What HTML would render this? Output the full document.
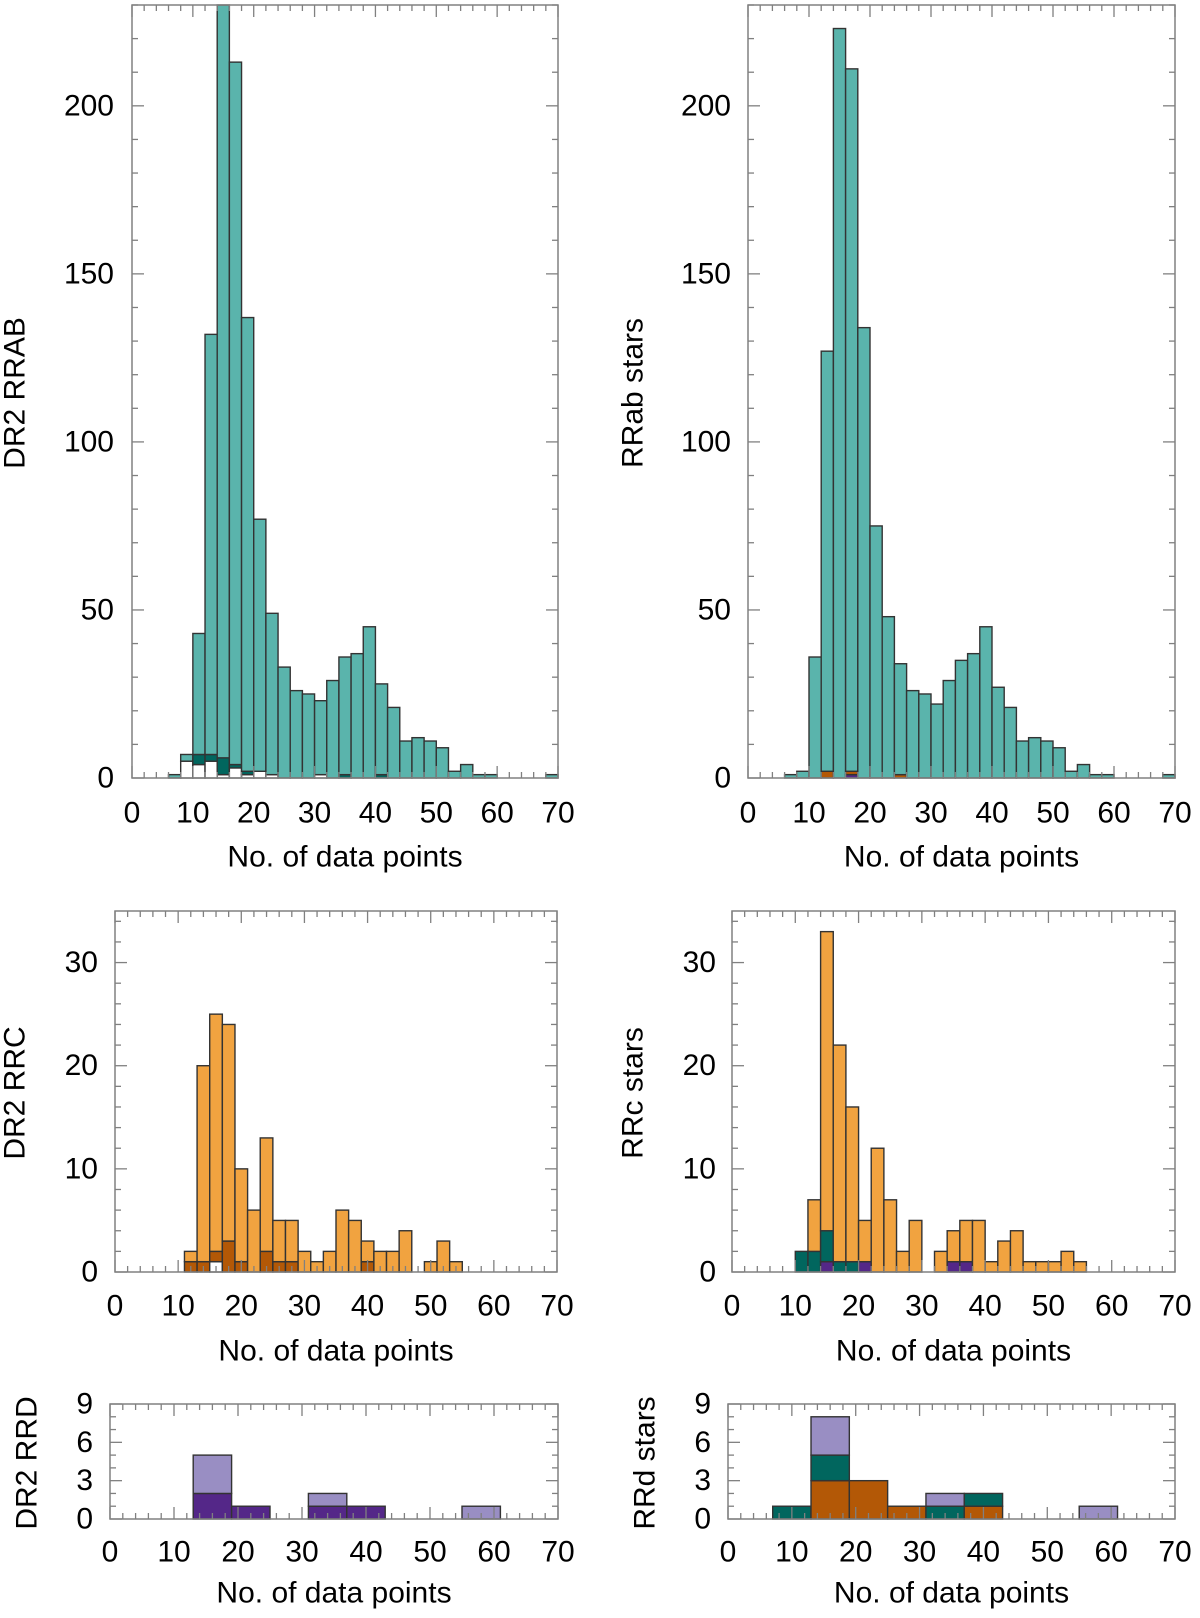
<!DOCTYPE html>
<html><head><meta charset="utf-8"><style>
body{margin:0;background:#fff}
svg{display:block}
text{font-family:"Liberation Sans",sans-serif;fill:#000}
</style></head><body>
<svg id="fig" width="1200" height="1618" viewBox="0 0 1200 1618" xmlns="http://www.w3.org/2000/svg"></svg>
<script>
// ---- data ----
const rrabDr2Starts = [6,8,10,12,14,16,18,20,22,24,26,28,30,32,34,36,38,40,42,44,46,48,50,52,54,56,58,60,62,64,66,68];
const rrabDr2Total  = [1,7,43,132,230,213,137,77,49,33,26,25,23,29,36,37,45,28,21,11,12,11,9,2,4,1,1,0,0,0,0,1];
const rrabDr2White  = [0,5,4,5,1,3,1,2,1,0,0,0,1,0,0,0,0,0,0,0,0,0,0,0,0,0,0,0,0,0,0,0];
const rrabDr2Dark   = [0,0,3,2,5,1,1,0,0,0,0,0,0,0,1,0,0,1,0,0,0,0,0,0,0,0,0,0,0,0,0,0];

const rrabStarts = [6,8,10,12,14,16,18,20,22,24,26,28,30,32,34,36,38,40,42,44,46,48,50,52,54,56,58,60,62,64,66,68];
const rrabTotal  = [1,2,36,127,223,211,134,75,48,34,26,25,22,29,35,37,45,27,21,11,12,11,9,2,4,1,1,0,0,0,0,1];
const rrabPurple = [0,0,0,0,0,1,0,0,0,0,0,0,0,0,0,0,0,0,0,0,0,0,0,0,0,0,0,0,0,0,0,0];
const rrabOrange = [0,0,0,2,0,1,0,0,0,1,0,0,0,0,0,0,0,0,0,0,0,0,0,0,0,0,0,0,0,0,0,0];

const rrcDr2Starts = [11,13,15,17,19,21,23,25,27,29,31,33,35,37,39,41,43,45,47,49,51,53];
const rrcDr2Total  = [2,20,25,24,10,6,13,5,5,2,1,2,6,5,3,2,2,4,0,1,3,1];
const rrcDr2White  = [0,0,1,0,0,0,0,0,0,0,0,0,0,0,0,0,0,0,0,0,0,0];
const rrcDr2Dark   = [1,1,1,3,1,0,2,1,1,0,0,0,0,0,1,0,0,0,0,0,0,0];

const rrcStarts = [10,12,14,16,18,20,22,24,26,28,30,32,34,36,38,40,42,44,46,48,50,52,54];
const rrcTotal  = [2,7,33,22,16,5,12,7,2,5,0,2,4,5,5,1,3,4,1,1,1,2,1];
const rrcPurple = [0,0,1,0,0,1,0,0,0,0,0,0,1,1,0,0,0,0,0,0,0,0,0];
const rrcTeal   = [2,2,3,1,1,0,0,0,0,0,0,0,0,0,0,0,0,0,0,0,0,0,0];

const rrdDr2Starts = [13,19,25,31,37,43,49,55];
const rrdDr2Total  = [5,1,0,2,1,0,0,1];
const rrdDr2Dark   = [2,1,0,1,1,0,0,0];

const rrdStarts = [7,13,19,25,31,37,43,49,55];
const rrdOrange = [0,3,3,1,0,1,0,0,0];
const rrdTeal   = [1,2,0,0,1,1,0,0,0];
const rrdPurple = [0,3,0,0,1,0,0,0,1];

const xTickLabels = [0,10,20,30,40,50,60,70];
const yTicksAB = [0,50,100,150,200];
const yTicksC = [0,10,20,30];
const yTicksD = [0,3,6,9];

// ---- drawing ----
const NS = "http://www.w3.org/2000/svg";
const svg = document.getElementById('fig');
function mk(tag, attrs, parent){
  const e = document.createElementNS(NS, tag);
  for (const k in attrs) e.setAttribute(k, attrs[k]);
  (parent||svg).appendChild(e);
  return e;
}
const C = {lt:'#5ab4ac', dt:'#01665e', lo:'#f1a340', do_:'#b35806', lp:'#998ec3', dp:'#542788', w:'#ffffff'};

function panel(cfg){
  const g = mk('g', {});
  
  
  const xs = v => cfg.x0 + (v/70)*(cfg.x1-cfg.x0);
  const ys = v => cfg.yb - (v/cfg.ymax)*(cfg.yb-cfg.yt);
  // bars: layers bottom to top
  cfg.starts.forEach((s,i)=>{
    let acc = 0;
    cfg.layers.forEach(L=>{
      const v = L.vals[i];
      if (v <= 0) return;
      const r = mk('rect', {x:xs(s), y:ys(acc+v), width:xs(s+cfg.bw)-xs(s), height:ys(acc)-ys(acc+v), fill:L.color, stroke:'#333', 'stroke-width':1.4}, g);
      
      
      acc += v;
    });
  });
  // frame
  const fr = mk('rect', {x:cfg.x0, y:cfg.yt, width:cfg.x1-cfg.x0, height:cfg.yb-cfg.yt, fill:'none', stroke:'#808080', 'stroke-width':1.5}, g);
  
  
  // x ticks
  for (let v=0; v<=70; v+=2){
    const len = (v%10===0)?12:6;
    const x = xs(v);
    mk('line', {x1:x, x2:x, y1:cfg.yb, y2:cfg.yb-len, stroke:'#808080', 'stroke-width':1.3}, g);
    mk('line', {x1:x, x2:x, y1:cfg.yt, y2:cfg.yt+len, stroke:'#808080', 'stroke-width':1.3}, g);
  }
  // y ticks
  for (let v=0; v<=cfg.ymax+1e-9; v+=cfg.yMinor){
    const major = Math.abs(v/cfg.yMajor - Math.round(v/cfg.yMajor))<1e-6;
    const len = major?12:6;
    const y = ys(v);
    mk('line', {x1:cfg.x0, x2:cfg.x0+len, y1:y, y2:y, stroke:'#808080', 'stroke-width':1.3}, g);
    mk('line', {x1:cfg.x1, x2:cfg.x1-len, y1:y, y2:y, stroke:'#808080', 'stroke-width':1.3}, g);
  }
  // labels
  xTickLabels.forEach(v=>{
    const t = mk('text', {x:xs(v), y:cfg.xlY, 'font-size':30, 'text-anchor':'middle', 'dominant-baseline':'central'}, g);
    t.textContent = v;
    
    
  });
  cfg.yTicks.forEach(v=>{
    const t = mk('text', {x:cfg.ylX, y:ys(v), 'font-size':30, 'text-anchor':'end', 'dominant-baseline':'central'}, g);
    t.textContent = v;
    
    
  });
  const xt = mk('text', {x:(cfg.x0+cfg.x1)/2, y:cfg.xtY, 'font-size':30, 'text-anchor':'middle', 'dominant-baseline':'central'}, g);
  xt.textContent = 'No. of data points';
  
  
  const yt = mk('text', {x:0, y:0, 'font-size':30, 'text-anchor':'middle', 'dominant-baseline':'central', transform:'translate('+cfg.ytX+','+cfg.ytY+') rotate(-90)'}, g);
  yt.textContent = cfg.ytitle;
  
  
}
function rem(total, a, b){ return total.map((t,i)=>t-(a?a[i]:0)-(b?b[i]:0)); }

panel({name:'panel-dr2-rrab', x0:132, x1:558, yt:5, yb:778, ymax:230, yMajor:50, yMinor:10, bw:2,
  starts:rrabDr2Starts, yTicks:yTicksAB, ylX:114, xlY:813, xtY:857, ytX:15, ytY:393, ytitle:'DR2 RRAB',
  layers:[{key:'white',color:C.w,vals:rrabDr2White},{key:'dark',color:C.dt,vals:rrabDr2Dark},{key:'main',color:C.lt,vals:rem(rrabDr2Total,rrabDr2White,rrabDr2Dark)}]});
panel({name:'panel-rrab-stars', x0:748, x1:1175, yt:5, yb:778, ymax:230, yMajor:50, yMinor:10, bw:2,
  starts:rrabStarts, yTicks:yTicksAB, ylX:731, xlY:813, xtY:857, ytX:633, ytY:393, ytitle:'RRab stars',
  layers:[{key:'purple',color:C.dp,vals:rrabPurple},{key:'orange',color:C.do_,vals:rrabOrange},{key:'main',color:C.lt,vals:rem(rrabTotal,rrabPurple,rrabOrange)}]});
panel({name:'panel-dr2-rrc', x0:115, x1:557, yt:911, yb:1272, ymax:35, yMajor:10, yMinor:2, bw:2,
  starts:rrcDr2Starts, yTicks:yTicksC, ylX:98, xlY:1306, xtY:1351, ytX:15, ytY:1093, ytitle:'DR2 RRC',
  layers:[{key:'white',color:C.w,vals:rrcDr2White},{key:'dark',color:C.do_,vals:rrcDr2Dark},{key:'main',color:C.lo,vals:rem(rrcDr2Total,rrcDr2White,rrcDr2Dark)}]});
panel({name:'panel-rrc-stars', x0:732, x1:1175, yt:911, yb:1272, ymax:35, yMajor:10, yMinor:2, bw:2,
  starts:rrcStarts, yTicks:yTicksC, ylX:716, xlY:1306, xtY:1351, ytX:633, ytY:1093, ytitle:'RRc stars',
  layers:[{key:'purple',color:C.dp,vals:rrcPurple},{key:'teal',color:C.dt,vals:rrcTeal},{key:'main',color:C.lo,vals:rem(rrcTotal,rrcPurple,rrcTeal)}]});
panel({name:'panel-dr2-rrd', x0:110, x1:558, yt:1404, yb:1519, ymax:9, yMajor:3, yMinor:1, bw:6,
  starts:rrdDr2Starts, yTicks:yTicksD, ylX:93, xlY:1552, xtY:1593, ytX:27, ytY:1463, ytitle:'DR2 RRD',
  layers:[{key:'dark',color:C.dp,vals:rrdDr2Dark},{key:'main',color:C.lp,vals:rem(rrdDr2Total,rrdDr2Dark)}]});
panel({name:'panel-rrd-stars', x0:728, x1:1175, yt:1404, yb:1519, ymax:9, yMajor:3, yMinor:1, bw:6,
  starts:rrdStarts, yTicks:yTicksD, ylX:711, xlY:1552, xtY:1593, ytX:645, ytY:1463, ytitle:'RRd stars',
  layers:[{key:'orange',color:C.do_,vals:rrdOrange},{key:'teal',color:C.dt,vals:rrdTeal},{key:'purple',color:C.lp,vals:rrdPurple}]});
</script>
</body></html>
